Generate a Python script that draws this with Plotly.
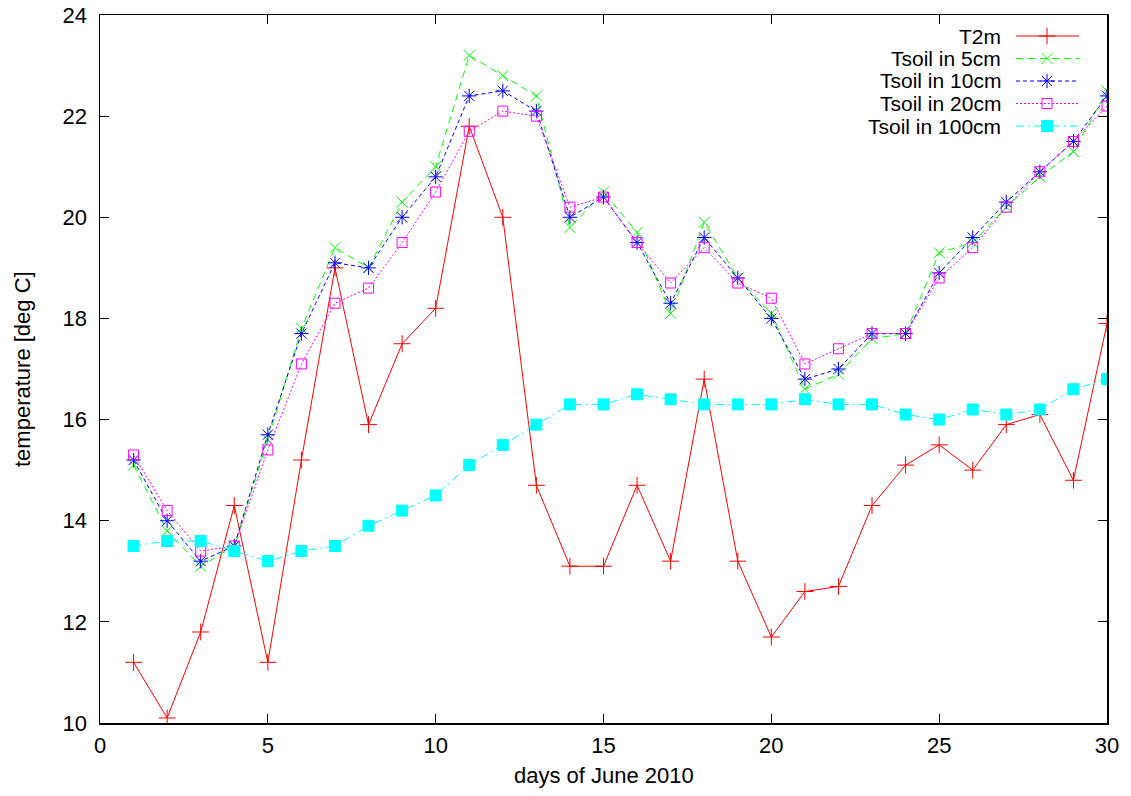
import plotly.graph_objects as go

days = list(range(1, 31))

t2m = [11.2, 10.1, 11.8, 14.3, 11.2, 15.2, 19.0, 15.9, 17.5, 18.2,
       21.8, 20.0, 14.7, 13.1, 13.1, 14.7, 13.2, 16.8, 13.2, 11.7,
       12.6, 12.7, 14.3, 15.1, 15.5, 15.0, 15.9, 16.1, 14.8, 17.9]
tsoil_5 = [15.1, 13.8, 13.1, 13.5, 15.6, 17.8, 19.4, 19.0, 20.3, 21.0,
           23.2, 22.8, 22.4, 19.8, 20.5, 19.7, 18.1, 19.9, 18.8, 18.1,
           16.6, 16.9, 17.6, 17.7, 19.3, 19.5, 20.2, 20.8, 21.3, 22.5]
tsoil_10 = [15.2, 14.0, 13.2, 13.5, 15.7, 17.7, 19.1, 19.0, 20.0, 20.8,
            22.4, 22.5, 22.1, 20.0, 20.4, 19.5, 18.3, 19.6, 18.8, 18.0,
            16.8, 17.0, 17.7, 17.7, 18.9, 19.6, 20.3, 20.9, 21.5, 22.4]
tsoil_20 = [15.3, 14.2, 13.4, 13.5, 15.4, 17.1, 18.3, 18.6, 19.5, 20.5,
            21.7, 22.1, 22.0, 20.2, 20.4, 19.5, 18.7, 19.4, 18.7, 18.4,
            17.1, 17.4, 17.7, 17.7, 18.8, 19.4, 20.2, 20.9, 21.5, 22.2]
tsoil_100 = [13.5, 13.6, 13.6, 13.4, 13.2, 13.4, 13.5, 13.9, 14.2, 14.5,
             15.1, 15.5, 15.9, 16.3, 16.3, 16.5, 16.4, 16.3, 16.3, 16.3,
             16.4, 16.3, 16.3, 16.1, 16.0, 16.2, 16.1, 16.2, 16.6, 16.8]

series_names = ["T2m", "Tsoil in 5cm", "Tsoil in 10cm", "Tsoil in 20cm", "Tsoil in 100cm"]
series_values = [t2m, tsoil_5, tsoil_10, tsoil_20, tsoil_100]
colors = ["#ff0000", "#00ff00", "#0000ff", "#ff00ff", "#00ffff"]
dashes = ["solid", "7px,5px", "4px,3px", "2px,2px", "8px,4px,2px,4px"]
symbols = ["cross-thin-open", "x-thin-open", "asterisk-open", "square-open", "square"]
msizes = [12, 11, 12, 10, 11]

x_ticks = [0, 5, 10, 15, 20, 25, 30]
y_ticks = [10, 12, 14, 16, 18, 20, 22, 24]

FONT = "Liberation Sans, Arial, sans-serif"
FS = 22
LFS = 21
W, H = 1131, 796
ML, MR, MT, MB = 100, 24, 15, 73

fig = go.Figure()

for name, vals, col, dsh, sym, ms in zip(series_names, series_values, colors, dashes, symbols, msizes):
    fig.add_trace(go.Scatter(
        x=days, y=vals, name=name, mode="lines+markers",
        line=dict(color=col, width=1, dash=dsh),
        marker=dict(symbol=sym, size=ms, color=col, line=dict(color=col, width=1)),
        showlegend=False,
    ))

pw = W - ML - MR
ph = H - MT - MB
# helpers: screen pixel -> paper fraction (for legend / title placement)
def px_x(p):
    return (p - ML) / pw
def px_y(p):
    return (H - MB - p) / ph

row_y = [36, 58.5, 81, 103.5, 126]
text_right = 1002
line_x0, line_x1, mark_x = 1016, 1079, 1047

for i, (name, col, dsh, sym, ms) in enumerate(zip(series_names, colors, dashes, symbols, msizes)):
    yy = px_y(row_y[i])
    fig.add_annotation(x=px_x(text_right), y=yy, xref="paper", yref="paper",
                       text=name, showarrow=False, xanchor="right", yanchor="middle",
                       borderpad=0, font=dict(family=FONT, size=LFS, color="black"))
    fig.add_shape(type="line", xref="paper", yref="paper",
                  x0=px_x(line_x0), x1=px_x(line_x1), y0=yy, y1=yy,
                  line=dict(color=col, width=1, dash=dsh))
    fig.add_trace(go.Scatter(
        x=[px_x(mark_x)], y=[yy], xaxis="x2", yaxis="y2", mode="markers",
        marker=dict(symbol=sym, size=ms, color=col, line=dict(color=col, width=1)),
        showlegend=False, hoverinfo="skip",
    ))

# axis titles
fig.add_annotation(x=0.5, y=px_y(775), xref="paper", yref="paper",
                   text="days of June 2010", showarrow=False,
                   xanchor="center", yanchor="middle",
                   font=dict(family=FONT, size=FS, color="black"))
fig.add_annotation(x=px_x(22), y=0.5, xref="paper", yref="paper",
                   text="temperature [deg C]", showarrow=False, textangle=-90,
                   xanchor="center", yanchor="middle",
                   font=dict(family=FONT, size=FS, color="black"))

axis_common = dict(
    showgrid=False, zeroline=False, showline=True, linecolor="black", linewidth=1.5,
    mirror="ticks", ticks="inside", ticklen=9, tickwidth=1.2, tickcolor="black",
    tickfont=dict(family=FONT, size=FS, color="black"), automargin=False,
    ticklabeloverflow="allow",
)

fig.update_layout(
    width=W, height=H,
    margin=dict(l=ML, r=MR, t=MT, b=MB, autoexpand=False),
    paper_bgcolor="white", plot_bgcolor="white",
    font=dict(family=FONT, size=FS, color="black"),
    xaxis=dict(range=[0, 30], tickvals=x_ticks, ticklabelstandoff=2, **axis_common),
    yaxis=dict(range=[10, 24], tickvals=y_ticks, ticklabelstandoff=7, **axis_common),
    xaxis2=dict(range=[0, 1], overlaying="x", visible=False, fixedrange=True),
    yaxis2=dict(range=[0, 1], overlaying="y", visible=False, fixedrange=True),
    showlegend=False,
    hovermode=False,
)

fig.write_html("out.html",
               config={"displayModeBar": False, "staticPlot": True},
               post_script="document.body.style.margin='0';document.body.style.overflow='hidden';")
